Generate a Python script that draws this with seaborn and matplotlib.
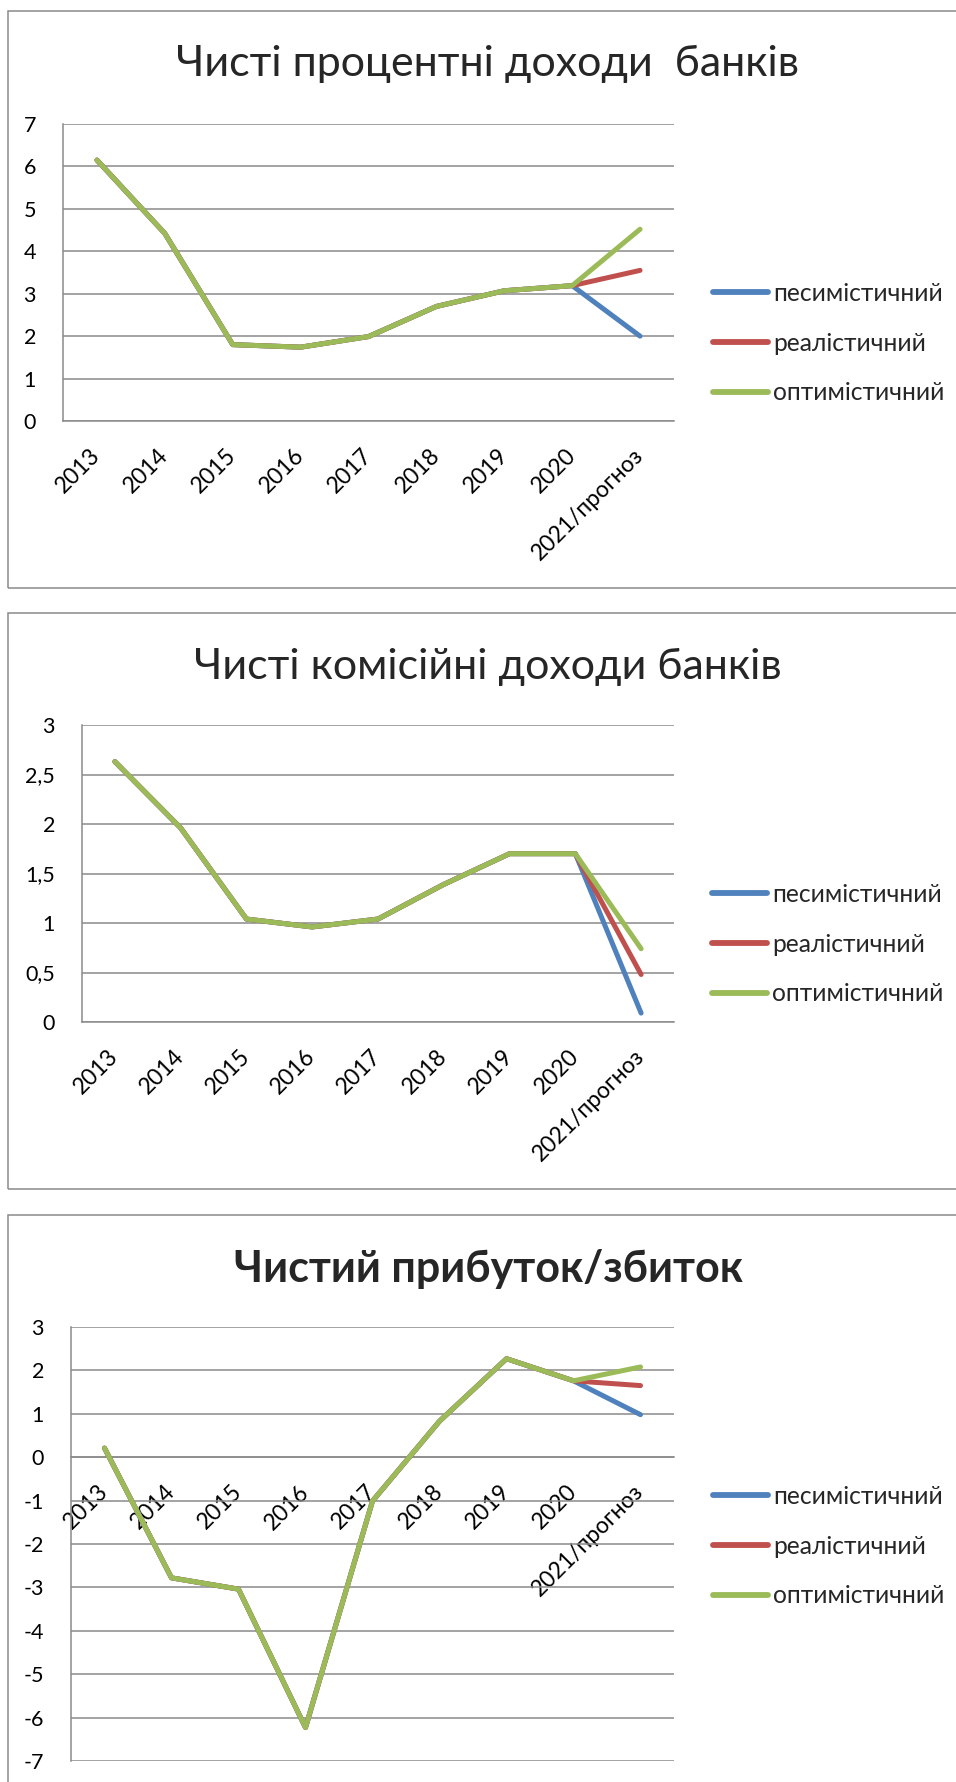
import numpy as np
import pandas as pd
import matplotlib
matplotlib.use("Agg")
import matplotlib.pyplot as plt
import seaborn as sns
from matplotlib.ticker import FixedLocator, FuncFormatter, MultipleLocator
from matplotlib.patches import Rectangle

# ---- data -------------------------------------------------------------
years = ["2013", "2014", "2015", "2016", "2017", "2018", "2019", "2020", "2021/прогноз"]
scenarios = ["песимістичний", "реалістичний", "оптимістичний"]
colors = ["#4F81BD", "#C0504D", "#9BBB59"]

# actual values 2013-2020, then the 2021 forecast for each scenario
interest_hist = [6.15, 4.42, 1.80, 1.74, 1.99, 2.70, 3.07, 3.19]
interest_2021 = [2.00, 3.55, 4.52]

commission_hist = [2.63, 1.96, 1.04, 0.96, 1.04, 1.39, 1.70, 1.70]
commission_2021 = [0.09, 0.48, 0.74]

profit_hist = [0.21, -2.78, -3.04, -6.23, -1.01, 0.83, 2.27, 1.76]
profit_2021 = [0.98, 1.65, 2.08]

titles = ["Чисті процентні доходи  банків",
          "Чисті комісійні доходи банків",
          "Чистий прибуток/збиток"]


def long_frame(hist, forecast):
    rows = []
    for s, f in zip(scenarios, forecast):
        for i, v in enumerate(list(hist) + [f]):
            rows.append({"x": i, "value": v, "scenario": s})
    return pd.DataFrame(rows)


# ---- style ------------------------------------------------------------
sns.set_style("white")
plt.rcParams["font.family"] = ["Lato", "DejaVu Sans"]

W, H = 956, 1782
GRAY = "#8a8a8a"
fig = plt.figure(figsize=(W / 100, H / 100), dpi=100)


def px_axes(left, top, right, bottom):
    return fig.add_axes([left / W, 1 - bottom / H, (right - left) / W, (bottom - top) / H])


def frame(top, bottom):
    fig.add_artist(Rectangle((8 / W, 1 - bottom / H), (968 - 8) / W, (bottom - top) / H,
                             transform=fig.transFigure, fill=False,
                             edgecolor=GRAY, lw=1.1, zorder=0))


def comma(v, pos):
    return f"{v:g}".replace(".", ",")


panels = [
    dict(df=long_frame(interest_hist, interest_2021), box=(63, 124, 674, 421),
         ylim=(0, 7), step=1, frame=(11, 588), title_y=76, bold=False, leg=(1.0638, 0.262)),
    dict(df=long_frame(commission_hist, commission_2021), box=(82, 725, 674, 1022),
         ylim=(0, 3), step=0.5, frame=(613, 1189), title_y=679, bold=False, leg=(1.0638, 0.262)),
    dict(df=long_frame(profit_hist, profit_2021), box=(71, 1327, 674, 1761),
         ylim=(-7, 3), step=1, frame=(1215, 1800), title_y=1282, bold=True, leg=(1.0647, 0.495)),
]

TICK_FS = 15.5
XTICK_FS = 16.5
LEG_FS = 17.7
TITLE_FS = 31
for p, title in zip(panels, titles):
    frame(*p["frame"])
    ax = px_axes(*p["box"])
    sns.lineplot(data=p["df"], x="x", y="value", hue="scenario", hue_order=scenarios,
                 palette=colors, lw=3.6, ax=ax, legend=True)
    for ln in ax.lines:
        ln.set_solid_capstyle("round")
        ln.set_solid_joinstyle("round")

    # axis frame first: the category axis crosses the value axis at zero
    ax.grid(False)
    for side in ("top", "right"):
        ax.spines[side].set_visible(False)
    for side in ("left", "bottom"):
        ax.spines[side].set_color(GRAY)
        ax.spines[side].set_linewidth(1.1)
    ax.spines["bottom"].set_position(("data", 0))
    ax.spines["bottom"].set_zorder(1)

    ax.set_xlim(-0.5, len(years) - 0.5)
    ax.set_ylim(*p["ylim"])
    ax.set_xlabel("")
    ax.set_ylabel("")

    # category labels at centres, tick marks on category boundaries
    ax.set_xticks(range(len(years)))
    ax.set_xticklabels(years)
    ax.xaxis.set_minor_locator(FixedLocator(np.arange(-0.5, len(years), 1)))
    ax.tick_params(axis="x", which="major", length=0, pad=22.5, labelsize=XTICK_FS,
                   labelrotation=45)
    ax.tick_params(axis="x", which="minor", length=5.8, width=1.1, color=GRAY, direction="out")

    ax.yaxis.set_major_locator(MultipleLocator(p["step"]))
    ax.yaxis.set_major_formatter(FuncFormatter(comma))
    ax.tick_params(axis="y", which="major", length=6.5, width=1.1, color=GRAY,
                   direction="out", pad=13, labelsize=TICK_FS)
    ax.tick_params(axis="both", labelcolor="black")
    ax.yaxis.grid(True, color=GRAY, lw=1.1)

    for lbl in ax.get_xticklabels():
        lbl.set_horizontalalignment("right")
        lbl.set_verticalalignment("center")
        lbl.set_rotation_mode("anchor")

    old = ax.get_legend()
    handles = old.legend_handles
    labels = [t.get_text() for t in old.get_texts()]
    old.remove()
    fs_px = LEG_FS * 100 / 72
    leg = ax.legend(handles, labels, loc="center left", bbox_to_anchor=p["leg"],
                    frameon=False, borderaxespad=0, borderpad=0, fontsize=LEG_FS,
                    handlelength=55 / fs_px, handletextpad=5 / fs_px,
                    labelspacing=1.09)
    for h in leg.legend_handles:
        h.set_linewidth(4.2)
        h.set_solid_capstyle("round")

    fig.text(488 / W, 1 - p["title_y"] / H, title, ha="center", va="baseline",
             fontsize=TITLE_FS, fontweight="bold" if p["bold"] else "normal")

fig.savefig("out.png", dpi=100)
